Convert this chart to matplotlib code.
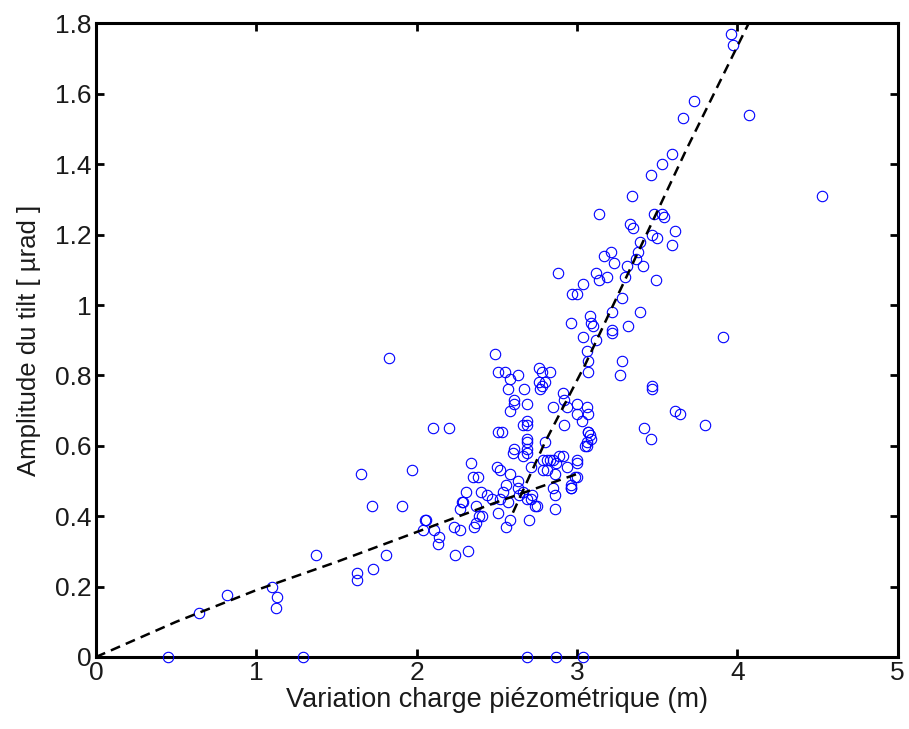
import matplotlib
matplotlib.use("Agg")
import matplotlib.pyplot as plt
from matplotlib.ticker import FuncFormatter

# scatter data (piezometric head variation [m], tilt amplitude [µrad])
x_pts = [0.45, 1.29, 2.69, 2.87, 3.04,
         0.64, 0.82, 1.10, 1.12, 1.13, 1.37,
         1.65, 1.97, 1.72, 1.91, 1.63, 1.63, 1.73, 1.81, 1.83,
         2.06, 2.04, 2.11, 2.14, 2.13, 2.24, 2.32, 2.23, 2.27, 2.10, 2.20,
         2.34, 2.50, 2.52, 2.35, 2.38, 2.31, 2.29, 2.27, 2.37, 2.40, 2.44, 2.47,
         2.39, 2.36, 2.37, 2.54, 2.56, 2.58, 2.60, 2.69, 2.69, 2.66, 2.52, 2.51,
         2.57, 2.56, 2.58, 2.63, 2.64, 2.71, 2.72, 2.69, 2.75, 2.70, 2.81, 2.81,
         2.85, 2.87, 2.86, 2.85, 2.86, 2.86, 2.91, 2.94, 2.96, 2.96, 3.00, 2.99,
         3.06, 3.08, 3.07, 2.80, 2.61, 2.69, 2.79, 2.79, 2.63, 2.74, 2.41, 2.28,
         2.05, 2.96, 3.00, 2.89, 2.83, 3.05, 3.00, 2.66, 2.71,
         2.49, 2.51, 2.55, 2.58, 2.63, 2.57, 2.67, 2.61, 2.61, 2.58, 2.69, 2.69,
         2.66, 2.69, 2.76, 2.78, 2.76, 2.78, 2.77, 2.51, 2.53, 2.69,
         3.04, 3.12, 3.22, 3.06, 3.07, 3.07, 3.28, 3.27, 3.47, 3.47, 2.83, 2.80,
         2.91, 2.92, 2.85, 2.94, 3.00, 3.06, 3.00, 3.07, 3.03, 2.92, 3.07, 3.09,
         3.06, 3.42, 3.46, 3.61, 3.64, 3.80, 3.91,
         3.59, 3.53, 3.46, 3.34, 3.14, 3.48, 3.53, 3.54, 3.33, 3.35, 3.61, 3.47,
         3.50, 3.59, 3.39, 3.38, 3.21, 3.17, 3.23, 3.37, 3.41, 3.31, 3.30, 3.19,
         3.12, 3.14, 3.04, 2.88, 3.49, 3.00, 2.97, 3.28, 3.22, 3.39, 2.96, 3.08,
         3.09, 3.10, 3.22, 3.32,
         3.96, 3.97, 3.73, 3.66, 4.07, 4.53]
y_pts = [0.00, 0.00, 0.00, 0.00, 0.00,
         0.125, 0.175, 0.20, 0.14, 0.17, 0.29,
         0.52, 0.53, 0.43, 0.43, 0.24, 0.22, 0.25, 0.29, 0.85,
         0.39, 0.36, 0.36, 0.34, 0.32, 0.29, 0.30, 0.37, 0.36, 0.65, 0.65,
         0.55, 0.54, 0.53, 0.51, 0.51, 0.47, 0.44, 0.42, 0.43, 0.47, 0.46, 0.45,
         0.40, 0.37, 0.38, 0.47, 0.49, 0.52, 0.58, 0.61, 0.58, 0.57, 0.45, 0.41,
         0.44, 0.37, 0.39, 0.48, 0.46, 0.54, 0.46, 0.45, 0.43, 0.39, 0.56, 0.53,
         0.56, 0.55, 0.52, 0.48, 0.46, 0.42, 0.57, 0.54, 0.49, 0.48, 0.55, 0.51,
         0.61, 0.63, 0.64, 0.61, 0.59, 0.59, 0.56, 0.53, 0.50, 0.43, 0.40, 0.44,
         0.39, 0.48, 0.56, 0.57, 0.56, 0.60, 0.51, 0.47, 0.45,
         0.86, 0.81, 0.81, 0.79, 0.80, 0.76, 0.76, 0.73, 0.72, 0.70, 0.72, 0.67,
         0.66, 0.66, 0.82, 0.81, 0.78, 0.77, 0.76, 0.64, 0.64, 0.62,
         0.91, 0.90, 0.92, 0.87, 0.84, 0.81, 0.84, 0.80, 0.77, 0.76, 0.81, 0.78,
         0.75, 0.73, 0.71, 0.71, 0.72, 0.71, 0.69, 0.69, 0.67, 0.66, 0.64, 0.62,
         0.60, 0.65, 0.62, 0.70, 0.69, 0.66, 0.91,
         1.43, 1.40, 1.37, 1.31, 1.26, 1.26, 1.26, 1.25, 1.23, 1.22, 1.21, 1.20,
         1.19, 1.17, 1.18, 1.15, 1.15, 1.14, 1.12, 1.13, 1.11, 1.11, 1.08, 1.08,
         1.09, 1.07, 1.06, 1.09, 1.07, 1.03, 1.03, 1.02, 0.98, 0.98, 0.95, 0.97,
         0.95, 0.94, 0.93, 0.94,
         1.77, 1.74, 1.58, 1.53, 1.54, 1.31]

# fitted trend lines
fit1_x = [0.0, 0.5, 1.0, 1.5, 2.0, 2.5, 3.0]
fit1_y = [0.0, 0.10, 0.19, 0.27, 0.355, 0.44, 0.52]
fit2_x = [2.60, 2.80, 3.05, 3.37, 3.68, 4.07, 4.20]
fit2_y = [0.41, 0.61, 0.83, 1.14, 1.44, 1.80, 1.92]

x_ticks = [0, 1, 2, 3, 4, 5]
y_ticks = [0, 0.2, 0.4, 0.6, 0.8, 1.0, 1.2, 1.4, 1.6, 1.8]

plt.rcParams['font.family'] = ['Liberation Sans', 'DejaVu Sans']

fig = plt.figure(figsize=(9.09, 7.29), dpi=100)
ax = fig.add_axes([0.1056, 0.0988, 0.882, 0.869])

ax.plot(x_pts, y_pts, linestyle='none', marker='o', markersize=7.5,
        markerfacecolor='none', markeredgecolor='#0000ff', markeredgewidth=0.8,
        clip_on=False, zorder=3)
ax.plot(fit1_x, fit1_y, color='black', linestyle=(0, (4, 2.5)), linewidth=1.8, zorder=4)
ax.plot(fit2_x, fit2_y, color='black', linestyle=(0, (4, 2.5)), linewidth=1.8, zorder=4)

ax.set_xlim(0, 5)
ax.set_ylim(0, 1.8)
ax.set_xticks(x_ticks)
ax.set_yticks(y_ticks)
fmt = FuncFormatter(lambda v, p: f"{v:g}")
ax.xaxis.set_major_formatter(fmt)
ax.yaxis.set_major_formatter(fmt)

for s in ax.spines.values():
    s.set_linewidth(2.2)
ax.tick_params(direction='in', length=6, width=2, top=True, right=True,
               labelsize=19, pad=3, colors='black', labelcolor='#1a1a1a')

ax.set_xlabel("Variation charge piézométrique (m)", fontsize=19.5, labelpad=1,
              color='#1a1a1a')
ax.set_ylabel("Amplitude du tilt [ µrad ]", fontsize=18.5, labelpad=10,
              color='#1a1a1a')

fig.savefig("out.png", dpi=100)
